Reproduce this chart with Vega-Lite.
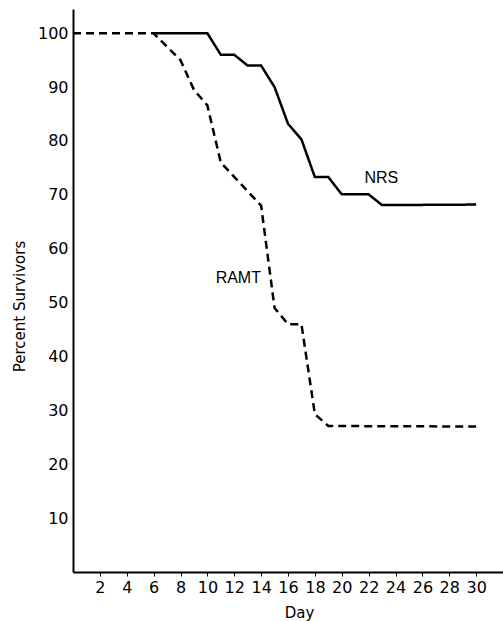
{
  "$schema": "https://vega.github.io/schema/vega-lite/v6.json",
  "autosize": {"type": "none"},
  "padding": {"left": 73, "top": 9, "right": 0, "bottom": 49},
  "width": 430,
  "height": 563,
  "background": "white",
  "config": {
    "view": {"stroke": null},
    "axis": {"grid": false, "domainColor": "black", "domainWidth": 2, "tickColor": "black", "labelColor": "black", "titleColor": "black", "labelFont": "DejaVu Sans", "titleFont": "DejaVu Sans", "titleFontWeight": "normal", "labelOverlap": false}
  },
  "datasets": {
    "lines": [
      {"day": 0, "pct": 100, "group": "RAMT"},
      {"day": 6, "pct": 100, "group": "RAMT"},
      {"day": 8, "pct": 95, "group": "RAMT"},
      {"day": 9, "pct": 89.5, "group": "RAMT"},
      {"day": 10, "pct": 86.6, "group": "RAMT"},
      {"day": 11, "pct": 76, "group": "RAMT"},
      {"day": 14, "pct": 68, "group": "RAMT"},
      {"day": 15, "pct": 49, "group": "RAMT"},
      {"day": 16, "pct": 46, "group": "RAMT"},
      {"day": 17, "pct": 46, "group": "RAMT"},
      {"day": 18, "pct": 29.3, "group": "RAMT"},
      {"day": 19, "pct": 27.1, "group": "RAMT"},
      {"day": 30, "pct": 27, "group": "RAMT"},
      {"day": 6, "pct": 100, "group": "NRS"},
      {"day": 10, "pct": 100, "group": "NRS"},
      {"day": 11, "pct": 96, "group": "NRS"},
      {"day": 12, "pct": 96, "group": "NRS"},
      {"day": 13, "pct": 94, "group": "NRS"},
      {"day": 14, "pct": 94, "group": "NRS"},
      {"day": 15, "pct": 90, "group": "NRS"},
      {"day": 16, "pct": 83.2, "group": "NRS"},
      {"day": 17, "pct": 80.3, "group": "NRS"},
      {"day": 18, "pct": 73.3, "group": "NRS"},
      {"day": 19, "pct": 73.3, "group": "NRS"},
      {"day": 20, "pct": 70.1, "group": "NRS"},
      {"day": 22, "pct": 70.1, "group": "NRS"},
      {"day": 23, "pct": 68.1, "group": "NRS"},
      {"day": 30, "pct": 68.2, "group": "NRS"}
    ],
    "labels": [
      {"day": 22.95, "pct": 73.2, "label": "NRS"},
      {"day": 12.3, "pct": 54.5, "label": "RAMT"}
    ]
  },
  "encoding": {
    "x": {"field": "day", "type": "quantitative", "scale": {"domain": [0, 32], "nice": false, "zero": false},
      "axis": {"values": [2,4,6,8,10,12,14,16,18,20,22,24,26,28,30], "labelFontSize": 16, "tickSize": 4, "labelPadding": 3, "labelFlush": false, "labelOverlap": false, "title": "Day", "titleFontSize": 15, "titlePadding": 10, "titleX": 226, "titleAnchor": "middle"}},
    "y": {"field": "pct", "type": "quantitative", "scale": {"domain": [0, 104.5], "nice": false},
      "axis": {"values": [10,20,30,40,50,60,70,80,90,100], "labelFontSize": 16, "ticks": false, "labelPadding": 5, "labelFlush": false, "labelOverlap": false, "title": "Percent Survivors", "titleFontSize": 15, "titleX": -46, "titleY": 297, "titleAnchor": "middle"}}
  },
  "layer": [
    {
      "data": {"name": "lines"},
      "mark": {"type": "line", "color": "black", "strokeWidth": 2.5},
      "encoding": {
        "strokeDash": {"field": "group", "type": "nominal", "scale": {"domain": ["NRS", "RAMT"], "range": [[1, 0], [8, 5]]}, "legend": null},
        "detail": {"field": "group"}
      }
    },
    {
      "data": {"name": "labels"},
      "mark": {"type": "text", "font": "Liberation Sans", "fontSize": 16, "color": "black", "align": "center", "baseline": "middle"},
      "encoding": {
        "text": {"field": "label"}
      }
    }
  ]
}
